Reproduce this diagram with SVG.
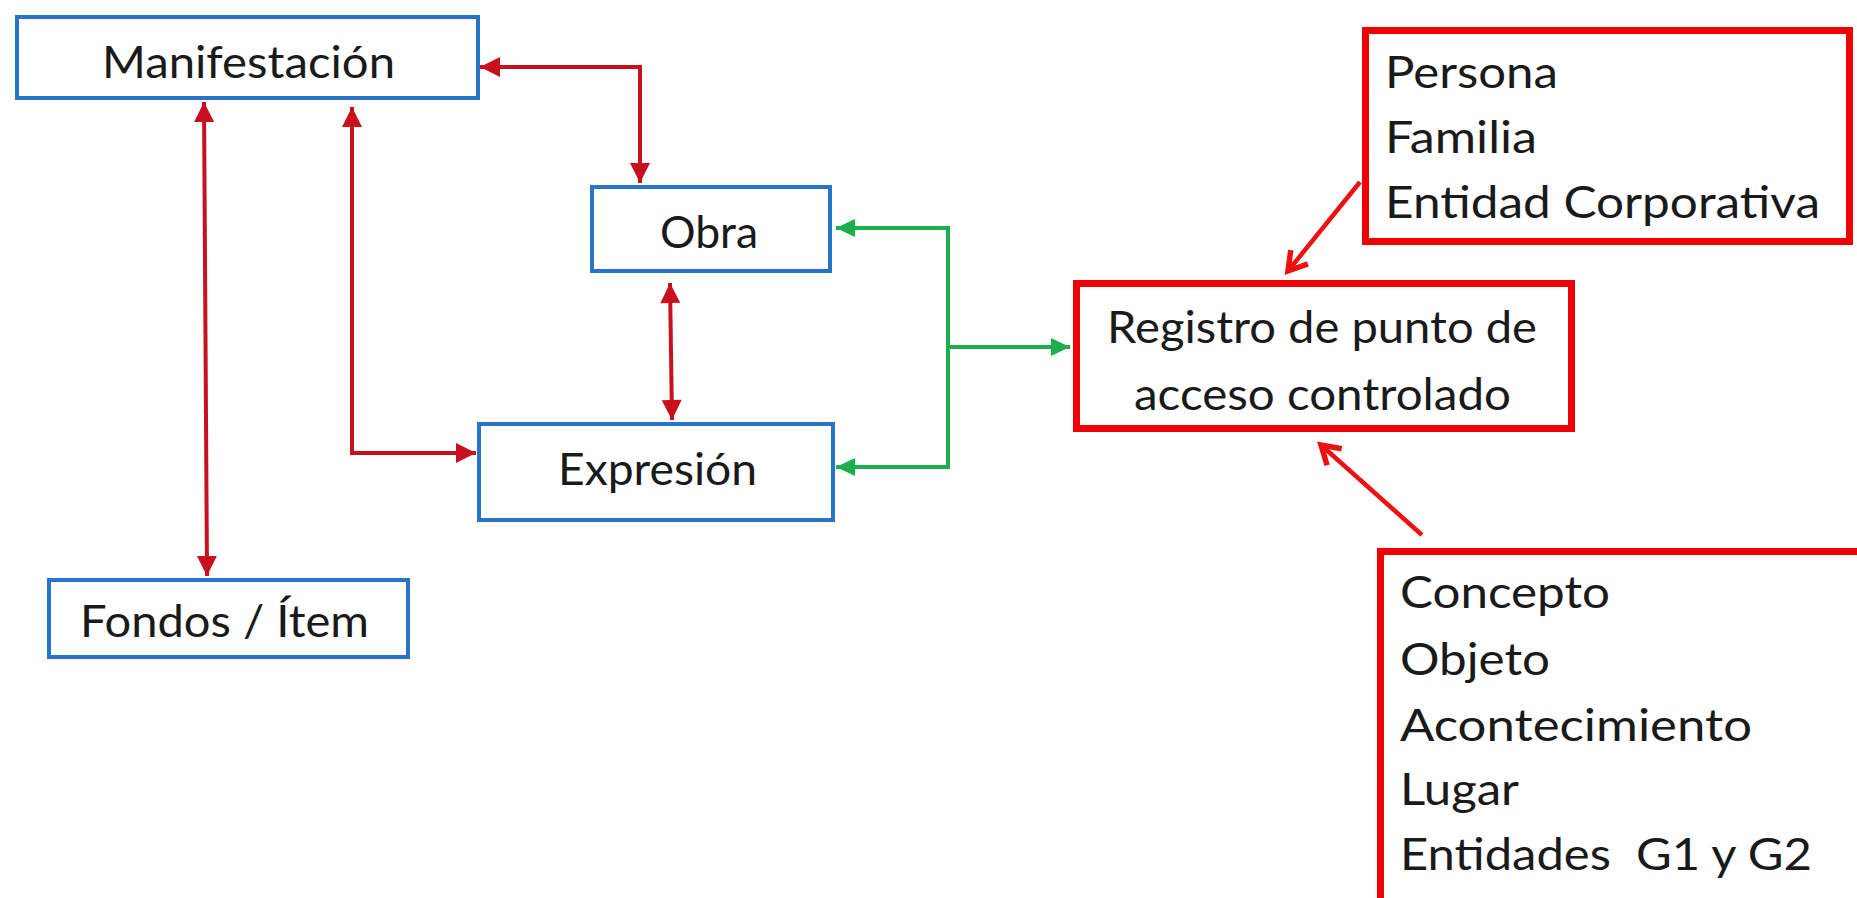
<svg xmlns="http://www.w3.org/2000/svg" width="1857" height="898" viewBox="0 0 1857 898">
<style>
.blue{fill:#fff;stroke:#2874C8;stroke-width:4}
.redbox{fill:#fff;stroke:#F00000;stroke-width:7}
.t{font-family:Lato,"Open Sans","Liberation Sans",sans-serif;font-size:44px;fill:#1a1a1a}
.dr{fill:none;stroke:#C8101E;stroke-width:4}
.gr{fill:none;stroke:#1DAE4E;stroke-width:4}
.br{fill:none;stroke:#EE1111;stroke-width:4.5}
</style>
<defs>
<marker id="mdr" markerUnits="userSpaceOnUse" markerWidth="1" markerHeight="1" refX="0" refY="0" orient="auto-start-reverse" overflow="visible">
<path d="M0 0 L-20 -10 L-20 10 Z" fill="#C8101E"/>
</marker>
<marker id="mgr" markerUnits="userSpaceOnUse" markerWidth="1" markerHeight="1" refX="0" refY="0" orient="auto-start-reverse" overflow="visible">
<path d="M0 0 L-19 -9 L-19 9 Z" fill="#1DAE4E"/>
</marker>
<marker id="mbr" markerUnits="userSpaceOnUse" markerWidth="1" markerHeight="1" refX="0" refY="0" orient="auto" overflow="visible">
<path d="M-18 -11 L0 0 L-18 11" fill="none" stroke="#EE1111" stroke-width="5.5" stroke-linejoin="miter"/>
</marker>
</defs>
<rect width="1857" height="898" fill="#fff"/>

<g id="connectors">
<path class="dr" d="M480 67 H640 V183" marker-start="url(#mdr)" marker-end="url(#mdr)"/>
<path class="dr" d="M204 102 L207 576" marker-start="url(#mdr)" marker-end="url(#mdr)"/>
<path class="dr" d="M352 107 V453 H476" marker-start="url(#mdr)" marker-end="url(#mdr)"/>
<path class="dr" d="M670 283 L672 420" marker-start="url(#mdr)" marker-end="url(#mdr)"/>
<path class="gr" d="M836 228 H948 V467 H836" marker-start="url(#mgr)" marker-end="url(#mgr)"/>
<path class="gr" d="M948 347 H1070" marker-end="url(#mgr)"/>
<path class="br" d="M1360 182 L1288 271" marker-end="url(#mbr)"/>
<path class="br" d="M1422 535 L1321 445" marker-end="url(#mbr)"/>
</g>

<g id="manifestacion">
<rect class="blue" x="17" y="17" width="461" height="81"/>
<text class="t" x="102" y="78" textLength="293" lengthAdjust="spacingAndGlyphs">Manifestación</text>
</g>
<g id="obra">
<rect class="blue" x="592" y="187" width="238" height="84"/>
<text class="t" x="660" y="248" textLength="98" lengthAdjust="spacingAndGlyphs">Obra</text>
</g>
<g id="expresion">
<rect class="blue" x="479" y="424" width="354" height="96"/>
<text class="t" x="558" y="485" textLength="199" lengthAdjust="spacingAndGlyphs">Expresión</text>
</g>
<g id="fondos">
<rect class="blue" x="49" y="580" width="359" height="77"/>
<text class="t" x="80" y="637" textLength="289" lengthAdjust="spacingAndGlyphs">Fondos / Ítem</text>
</g>
<g id="registro">
<rect class="redbox" x="1076.5" y="283.5" width="495" height="145"/>
<text class="t" x="1107" y="343" textLength="430" lengthAdjust="spacingAndGlyphs">Registro de punto de</text>
<text class="t" x="1134" y="410" textLength="377" lengthAdjust="spacingAndGlyphs">acceso controlado</text>
</g>
<g id="persona">
<rect class="redbox" x="1365.5" y="30.5" width="484" height="211"/>
<text class="t" x="1385" y="88" textLength="173" lengthAdjust="spacingAndGlyphs">Persona</text>
<text class="t" x="1385" y="153" textLength="152" lengthAdjust="spacingAndGlyphs">Familia</text>
<text class="t" x="1385" y="218" textLength="435" lengthAdjust="spacingAndGlyphs">Entidad Corporativa</text>
</g>
<g id="concepto">
<rect class="redbox" x="1380.5" y="551.5" width="480" height="360"/>
<text class="t" x="1400" y="608" textLength="210" lengthAdjust="spacingAndGlyphs">Concepto</text>
<text class="t" x="1400" y="675" textLength="150" lengthAdjust="spacingAndGlyphs">Objeto</text>
<text class="t" x="1400" y="741" textLength="352" lengthAdjust="spacingAndGlyphs">Acontecimiento</text>
<text class="t" x="1400" y="805" textLength="119" lengthAdjust="spacingAndGlyphs">Lugar</text>
<text class="t" x="1400" y="870" textLength="412" lengthAdjust="spacingAndGlyphs" xml:space="preserve">Entidades  G1 y G2</text>
</g>
</svg>
